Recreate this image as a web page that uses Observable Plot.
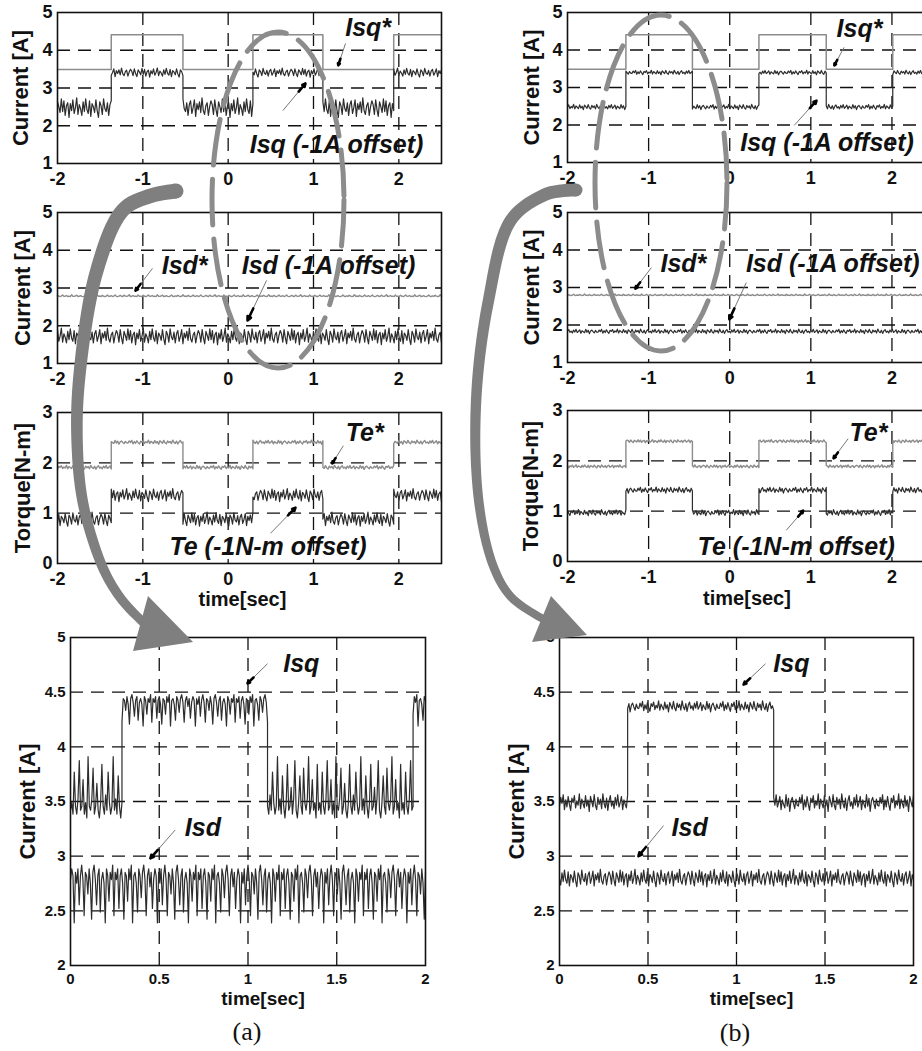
<!DOCTYPE html>
<html><head><meta charset="utf-8">
<script src="https://cdn.jsdelivr.net/npm/d3@7"></script>
<script src="https://cdn.jsdelivr.net/npm/@observablehq/plot@0.6"></script>
<style>
html,body{margin:0;padding:0;background:#fff;overflow:hidden}
#fig{position:relative;width:922px;height:1051px;overflow:hidden;background:#fff;font-family:"Liberation Sans",Arial,sans-serif}
#fig > svg{position:absolute}
#fig svg text{font-weight:bold}
.cap{position:absolute;font-family:"Liberation Serif","Times New Roman",serif;font-size:26px;transform:translate(-50%,-50%);color:#111}
</style></head><body><div id="fig"></div>
<script>
// ---------------- data ----------------
const timeTicksSmall = [-2, -1, 0, 1, 2];
const timeTicksBig = [0, 0.5, 1, 1.5, 2];
const currentTicksSmall = [1, 2, 3, 4, 5];
const torqueTicks = [0, 1, 2, 3];
const currentTicksBig = [2, 2.5, 3, 3.5, 4, 4.5, 5];

// switching instants of the square-wave reference (sec)
const edgesA = [-1.37, -0.53, 0.29, 1.11, 1.94];
const edgesB = [-1.28, -0.46, 0.36, 1.19, 2.01];
const edgesA4 = [0.29, 1.11, 1.93];
const edgesB4 = [0.385, 1.21];
const edgesNone = [];

// ripple (relative units)
const noiseA = [3,-7,8,-2,-9,6,1,-5,9,-4,7,-8,2,5,-10,4,-3,8,-6,0,10,-7,3,-1,-8,6,-4,9,-2,-6,7,-9,4,1,-5,8,-3,-10,6,2,-7,9,-1,-4,5,-8,3,7,-6,0,8,-9,4,-2,6,-5,10,-3,-7,2,5,-8,1,7];
const noiseB = [-4,6,-1,9,-8,3,-5,7,-2,-9,5,0,8,-6,2,-3,10,-7,4,-1,-6,8,-4,3,-10,7,1,-5,9,-3,-8,6,-2,4,-7,10,-1,-6,5,-9,2,8,-4,1,-7,6,-3,9,-5,0,7,-8,3,-2,-6,9,-4,5,-10,2,6,-1,-7,4,-3];
const noiseC = [4,2,5,-6,3,5,1,-9,4,3,-4,5,2,6,-10,3,4,1,-7,5,3,-3,4,6,2,-8,3,5,0,4,-6,2,5,3,-10,4,1,5,-5,3,6,2,-8,4,3,-2,5,1,-9,4,6,2,-5,3,5,-7,2,4,1,-10,5,3,-4,4,2,6,-8];

// levels [low, high] and ripple amplitude [low, high]
const isqRefA = {levels: [3.49, 4.41], amps: [0, 0]};
const isqA    = {levels: [2.48, 3.41], amps: [0.026, 0.012]};
const isqRefB = {levels: [3.49, 4.41], amps: [0, 0]};
const isqB    = {levels: [2.48, 3.40], amps: [0.007, 0.006]};
const isdRefA = {levels: [2.79, 2.79], amps: [-0.003, -0.003]};
const isdA    = {levels: [1.72, 1.72], amps: [0.022, 0.022]};
const isdRefB = {levels: [2.80, 2.80], amps: [-0.0025, -0.0025]};
const isdB    = {levels: [1.83, 1.83], amps: [0.006, 0.006]};
const teRefA  = {levels: [1.91, 2.41], amps: [0.004, 0.004]};
const teA     = {levels: [0.88, 1.36], amps: [0.014, 0.013]};
const teRefB  = {levels: [1.89, 2.39], amps: [0.003, 0.003]};
const teB     = {levels: [0.97, 1.42], amps: [0.006, 0.006]};
const isqA4   = {levels: [3.56, 4.37], amps: [-0.035, 0.018]};
const isdA4   = {levels: [2.72, 2.72], amps: [0.033, 0.033]};
const isqB4   = {levels: [3.49, 4.37], amps: [0.008, 0.005]};
const isdB4   = {levels: [2.80, 2.80], amps: [0.008, 0.008]};

// annotations (data units): labels and arrows (tail -> tip)
const notesA1 = [{text: "Isq*", x: 1.64, y: 4.58}, {text: "Isq (-1A offset)", x: 1.27, y: 1.48}];
const arrowsA1 = [{x1: 1.375, y1: 4.18, x2: 1.29, y2: 3.6}, {x1: 0.64, y1: 2.4, x2: 0.906, y2: 3.12}];
const notesB1 = [{text: "Isq*", x: 1.6, y: 4.57}, {text: "Isq (-1A offset)", x: 1.2, y: 1.51}];
const arrowsB1 = [{x1: 1.41, y1: 4.07, x2: 1.29, y2: 3.59}, {x1: 0.795, y1: 1.99, x2: 1.07, y2: 2.65}];
const notesA2 = [{text: "Isd*", x: -0.51, y: 3.57}, {text: "Isd (-1A offset)", x: 1.176, y: 3.57}];
const arrowsA2 = [{x1: -0.887, y1: 3.52, x2: -1.086, y2: 2.93}, {x1: 0.45, y1: 3.2, x2: 0.227, y2: 2.14}];
const notesB2 = [{text: "Isd*", x: -0.571, y: 3.64}, {text: "Isd (-1A offset)", x: 1.27, y: 3.64}];
const arrowsB2 = [{x1: -0.966, y1: 3.53, x2: -1.163, y2: 2.97}, {x1: 0.204, y1: 3.13, x2: -0.005, y2: 2.15}];
const notesA3 = [{text: "Te*", x: 1.6, y: 2.6}, {text: "Te (-1N-m offset)", x: 0.467, y: 0.32}];
const arrowsA3 = [{x1: 1.35, y1: 2.34, x2: 1.22, y2: 1.99}, {x1: 0.496, y1: 0.6, x2: 0.789, y2: 1.11}];
const notesB3 = [{text: "Te*", x: 1.71, y: 2.56}, {text: "Te (-1N-m offset)", x: 0.82, y: 0.28}];
const arrowsB3 = [{x1: 1.46, y1: 2.44, x2: 1.28, y2: 2.05}, {x1: 0.697, y1: 0.62, x2: 0.906, y2: 1.01}];
const notesA4 = [{text: "Isq", x: 1.3, y: 4.76}, {text: "Isd", x: 0.746, y: 3.26}];
const arrowsA4 = [{x1: 1.11, y1: 4.76, x2: 0.997, y2: 4.58}, {x1: 0.59, y1: 3.24, x2: 0.45, y2: 2.98}];
const notesB4 = [{text: "Isq", x: 1.31, y: 4.76}, {text: "Isd", x: 0.735, y: 3.26}];
const arrowsB4 = [{x1: 1.164, y1: 4.76, x2: 1.04, y2: 4.57}, {x1: 0.588, y1: 3.28, x2: 0.446, y2: 3.0}];

// ---------------- helpers ----------------
function series(edges, t0, t1, dt, spec, noise, start) {
  const cuts = [t0, ...edges.filter(e => e > t0 && e < t1), t1];
  const out = [];
  let k = start;
  for (let s = 0; s < cuts.length - 1; s++) {
    const a = cuts[s], b = cuts[s + 1];
    const state = edges.filter(e => e <= a).length % 2;
    const lvl = spec.levels[state], amp = spec.amps[state];
    const n = amp === 0 ? 1 : Math.max(1, Math.round((b - a) / dt));
    for (let i = 0; i <= n; i++) {
      out.push({t: a + (b - a) * i / n, v: lvl + amp * noise[k++ % noise.length]});
    }
  }
  return out;
}

const DARK = "#2d2d2d", GRAY = "#8c8c8c";
const fig = document.getElementById("fig");

function panel(p) {
  const [L, R, T, B] = p.frame;
  const mL = 60, mR = 12, mT = 14, mB = 50;
  const xin = p.xticks.filter(v => v > p.x[0] && v < p.x[1]);
  const yin = p.yticks.filter(v => v > p.y[0] && v < p.y[1]);
  const heads = p.arrows.map(a => ({x1: a.x2 - 0.3 * (a.x2 - a.x1), y1: a.y2 - 0.3 * (a.y2 - a.y1), x2: a.x2, y2: a.y2}));
  const marks = [
    Plot.gridX(xin, {stroke: "#111", strokeOpacity: 1, strokeWidth: 1.3, strokeDasharray: "13 8"}),
    Plot.gridY(yin, {stroke: "#111", strokeOpacity: 1, strokeWidth: 1.3, strokeDasharray: "13 8"}),
    ...p.series.map(s => Plot.line(s.data, {x: "t", y: "v", stroke: s.color, strokeWidth: s.width})),
    Plot.frame({stroke: "#111", strokeWidth: 1.6}),
    Plot.axisX({ticks: p.xticks, tickSize: 0, tickPadding: p.xpad, tickFormat: d => String(d), fontSize: p.tickFont, fontWeight: "bold", fill: "#111", label: null}),
    Plot.axisY({ticks: p.yticks, tickSize: 0, tickPadding: p.ypad, tickFormat: d => String(d), fontSize: p.tickFont, fontWeight: "bold", fill: "#111", label: null}),
    Plot.text([p.ytitle], {text: d => d, frameAnchor: "left", dx: p.ytitleDx, rotate: -90, textAnchor: "middle", lineAnchor: "middle", fontSize: 22, fontWeight: "bold", fill: "#111"}),
    Plot.link(p.arrows, {x1: "x1", y1: "y1", x2: "x2", y2: "y2", stroke: "#777", strokeWidth: 1}),
    Plot.arrow(heads, {x1: "x1", y1: "y1", x2: "x2", y2: "y2", stroke: "#000", strokeWidth: 2.6, headLength: 9, headAngle: 50}),
    Plot.text(p.notes, {x: "x", y: "y", text: "text", fontSize: p.noteFont, fontWeight: "bold", fontStyle: "italic", fill: "#111"})
  ];
  if (p.xtitle) marks.push(Plot.text([p.xtitle], {text: d => d, frameAnchor: "bottom", dy: p.xtitleDy, dx: p.xtitleDx, textAnchor: "middle", lineAnchor: "middle", fontSize: p.xtitleFont, fontWeight: "bold", fill: "#111"}));
  const svg = Plot.plot({
    width: R - L + mL + mR, height: B - T + mT + mB,
    marginLeft: mL, marginRight: mR, marginTop: mT, marginBottom: mB,
    x: {domain: p.x}, y: {domain: p.y},
    style: {fontFamily: "'Liberation Sans', Arial, sans-serif", fontWeight: "bold", color: "#111", background: "transparent", overflow: "visible"},
    marks
  });
  svg.style.left = (L - mL) + "px";
  svg.style.top = (T - mT) + "px";
  fig.appendChild(svg);
}

const small = {x: [-2, 2.5], xticks: timeTicksSmall, xpad: 9, ypad: 5, tickFont: 18, noteFont: 25, xtitleFont: 20};
const big = {x: [0, 2], xticks: timeTicksBig, xpad: 8, ypad: 5, tickFont: 15, noteFont: 25, xtitleFont: 19};

// (a) column
panel({...small, frame: [57, 441, 12, 163], y: [1, 5], yticks: currentTicksSmall, ytitle: "Current [A]", ytitleDx: -37,
  series: [{data: series(edgesA, -2, 2.5, 0.015, isqRefA, noiseA, 0), color: GRAY, width: 1.5},
           {data: series(edgesA, -2, 2.5, 0.015, isqA, noiseA, 5), color: DARK, width: 1.2}],
  notes: notesA1, arrows: arrowsA1});
panel({...small, frame: [57, 441, 212, 363], y: [1, 5], yticks: currentTicksSmall, ytitle: "Current [A]", ytitleDx: -35,
  series: [{data: series(edgesNone, -2, 2.5, 0.015, isdRefA, noiseC, 3), color: GRAY, width: 1.4},
           {data: series(edgesNone, -2, 2.5, 0.015, isdA, noiseA, 17), color: DARK, width: 1.2}],
  notes: notesA2, arrows: arrowsA2});
panel({...small, frame: [57, 441, 412, 563], y: [0, 3], yticks: torqueTicks, ytitle: "Torque[N-m]", ytitleDx: -35,
  xtitle: "time[sec]", xtitleDy: 36, xtitleDx: -7,
  series: [{data: series(edgesA, -2, 2.5, 0.015, teRefA, noiseB, 9), color: GRAY, width: 1.4},
           {data: series(edgesA, -2, 2.5, 0.015, teA, noiseA, 29), color: DARK, width: 1.2}],
  notes: notesA3, arrows: arrowsA3});
panel({...big, frame: [70, 425, 637, 965], y: [2, 5], yticks: currentTicksBig, ytitle: "Current [A]", ytitleDx: -43,
  xtitle: "time[sec]", xtitleDy: 33, xtitleDx: 15,
  series: [{data: series(edgesA4, 0, 2, 0.007, isqA4, noiseC, 0), color: DARK, width: 1.2},
           {data: series(edgesNone, 0, 2, 0.007, isdA4, noiseC, 31), color: DARK, width: 1.2}],
  notes: notesA4, arrows: arrowsA4});

// (b) column
panel({...small, frame: [567, 932, 12, 162], y: [1, 5], yticks: currentTicksSmall, ytitle: "Current [A]", ytitleDx: -36,
  series: [{data: series(edgesB, -2, 2.5, 0.015, isqRefB, noiseB, 0), color: GRAY, width: 1.5},
           {data: series(edgesB, -2, 2.5, 0.015, isqB, noiseB, 11), color: DARK, width: 1.2}],
  notes: notesB1, arrows: arrowsB1});
panel({...small, frame: [567, 932, 212, 362], y: [1, 5], yticks: currentTicksSmall, ytitle: "Current [A]", ytitleDx: -36,
  series: [{data: series(edgesNone, -2, 2.5, 0.015, isdRefB, noiseC, 20), color: GRAY, width: 1.4},
           {data: series(edgesNone, -2, 2.5, 0.015, isdB, noiseB, 40), color: DARK, width: 1.2}],
  notes: notesB2, arrows: arrowsB2});
panel({...small, frame: [567, 932, 410, 561], y: [0, 3], yticks: torqueTicks, ytitle: "Torque[N-m]", ytitleDx: -37,
  xtitle: "time[sec]", xtitleDy: 37, xtitleDx: -3,
  series: [{data: series(edgesB, -2, 2.5, 0.015, teRefB, noiseA, 13), color: GRAY, width: 1.4},
           {data: series(edgesB, -2, 2.5, 0.015, teB, noiseB, 7), color: DARK, width: 1.2}],
  notes: notesB3, arrows: arrowsB3});
panel({...big, frame: [559, 913, 637, 965], y: [2, 5], yticks: currentTicksBig, ytitle: "Current [A]", ytitleDx: -43,
  xtitle: "time[sec]", xtitleDy: 33, xtitleDx: 15,
  series: [{data: series(edgesB4, 0, 2, 0.007, isqB4, noiseB, 0), color: DARK, width: 1.2},
           {data: series(edgesNone, 0, 2, 0.007, isdB4, noiseA, 23), color: DARK, width: 1.2}],
  notes: notesB4, arrows: arrowsB4});

// sub-captions
for (const [txt, x, y] of [["(a)", 247, 1032], ["(b)", 735, 1033]]) {
  const d = document.createElement("div");
  d.className = "cap"; d.textContent = txt;
  d.style.left = x + "px"; d.style.top = y + "px";
  fig.appendChild(d);
}

// decorative overlay: dashed ellipses and curved zoom arrows
const ov = d3.select(fig).append("svg").attr("width", 922).attr("height", 1051).style("left", "0px").style("top", "0px");
for (const [cx, cy] of [[278, 200], [661, 183]]) {
  ov.append("ellipse").attr("cx", cx).attr("cy", cy).attr("rx", 66).attr("ry", 168)
    .attr("fill", "none").attr("stroke", "#8c8c8c").attr("stroke-width", 5)
    .attr("stroke-dasharray", "46 14").attr("stroke-linecap", "round");
}
const curve = d3.line().curve(d3.curveCatmullRom.alpha(0.5));
const shafts = [
  {pts: [[176,191],[150,196],[123,210],[97,270],[80,370],[77,437],[83,503],[103,568],[122,600],[145,624]], w0: 15, w1: 9,
   head: [[148,596],[133,651],[193,642]]},
  {pts: [[576,190],[560,191],[544,195],[511,220],[488,303],[476,403],[479,503],[494,568],[512,598],[545,620]], w0: 13, w1: 8,
   head: [[551,596],[532,642],[587,635]]}
];
for (const s of shafts) {
  const tmp = ov.append("path").attr("d", curve(s.pts)).attr("fill", "none");
  const node = tmp.node(), len = node.getTotalLength(), N = 120;
  const left = [], right = [];
  for (let i = 0; i <= N; i++) {
    const d = len * i / N;
    const p = node.getPointAtLength(d);
    const a = node.getPointAtLength(Math.max(0, d - 1)), b = node.getPointAtLength(Math.min(len, d + 1));
    const dx = b.x - a.x, dy = b.y - a.y, h = Math.hypot(dx, dy) || 1;
    const w = (s.w0 + (s.w1 - s.w0) * i / N) / 2;
    left.push([p.x - dy / h * w, p.y + dx / h * w]);
    right.push([p.x + dy / h * w, p.y - dx / h * w]);
  }
  tmp.remove();
  ov.append("polygon").attr("points", left.concat(right.reverse()).map(p => p.join(",")).join(" ")).attr("fill", "#7f7f7f");
  ov.append("circle").attr("cx", s.pts[0][0]).attr("cy", s.pts[0][1]).attr("r", s.w0 / 2).attr("fill", "#7f7f7f");
  ov.append("polygon").attr("points", s.head.map(p => p.join(",")).join(" ")).attr("fill", "#7f7f7f");
}
</script></body></html>
